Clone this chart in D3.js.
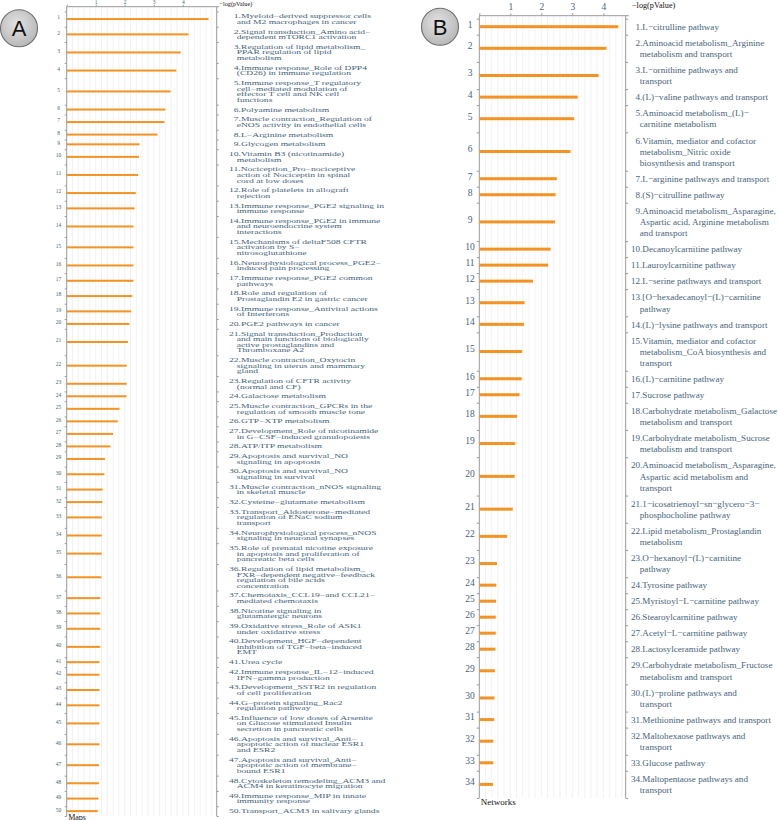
<!DOCTYPE html>
<html>
<head>
<meta charset="utf-8">
<script src="https://cdn.jsdelivr.net/npm/d3@7"></script>
<style>
  body { margin: 0; background: #fff; }
  svg { display: block; }
</style>
</head>
<body>
<svg id="chart" width="778" height="820"></svg>
<script>
// Panel A: pathway maps, -log(pValue)
const mapLabels = [
  'Myeloid−derived suppressor cells\nand M2 macrophages in cancer',
  'Signal transduction_Amino acid−\ndependent mTORC1 activation',
  'Regulation of lipid metabolism_\nPPAR regulation of lipid\nmetabolism',
  'Immune response_Role of DPP4\n(CD26) in immune regulation',
  'Immune response_T regulatory\ncell−mediated modulation of\neffector T cell and NK cell\nfunctions',
  'Polyamine metabolism',
  'Muscle contraction_Regulation of\neNOS activity in endothelial cells',
  'L−Arginine metabolism',
  'Glycogen metabolism',
  'Vitamin B3 (nicotinamide)\nmetabolism',
  'Nociception_Pro−nociceptive\naction of Nociceptin in spinal\ncord at low doses',
  'Role of platelets in allograft\nrejection',
  'Immune response_PGE2 signaling in\nimmune response',
  'Immune response_PGE2 in immune\nand neuroendocrine system\ninteractions',
  'Mechanisms of deltaF508 CFTR\nactivation by S−\nnitrosoglutathione',
  'Neurophysiological process_PGE2−\ninduced pain processing',
  'Immune response_PGE2 common\npathways',
  'Role and regulation of\nProstaglandin E2 in gastric cancer',
  'Immune response_Antiviral actions\nof Interferons',
  'PGE2 pathways in cancer',
  'Signal transduction_Production\nand main functions of biologically\nactive prostaglandins and\nThromboxane A2',
  'Muscle contraction_Oxytocin\nsignaling in uterus and mammary\ngland',
  'Regulation of CFTR activity\n(normal and CF)',
  'Galactose metabolism',
  'Muscle contraction_GPCRs in the\nregulation of smooth muscle tone',
  'GTP−XTP metabolism',
  'Development_Role of nicotinamide\nin G−CSF−induced granulopoiesis',
  'ATP/ITP metabolism',
  'Apoptosis and survival_NO\nsignaling in apoptosis',
  'Apoptosis and survival_NO\nsignaling in survival',
  'Muscle contraction_nNOS signaling\nin skeletal muscle',
  'Cysteine−glutamate metabolism',
  'Transport_Aldosterone−mediated\nregulation of ENaC sodium\ntransport',
  'Neurophysiological process_nNOS\nsignaling in neuronal synapses',
  'Role of prenatal nicotine exposure\nin apoptosis and proliferation of\npancreatic beta cells',
  'Regulation of lipid metabolism_\nFXR−dependent negative−feedback\nregulation of bile acids\nconcentration',
  'Chemotaxis_CCL19−and CCL21−\nmediated chemotaxis',
  'Nicotine signaling in\nglutamatergic neurons',
  'Oxidative stress_Role of ASK1\nunder oxidative stress',
  'Development_HGF−dependent\ninhibition of TGF−beta−induced\nEMT',
  'Urea cycle',
  'Immune response_IL−12−induced\nIFN−gamma production',
  'Development_SSTR2 in regulation\nof cell proliferation',
  'G−protein signaling_Rac2\nregulation pathway',
  'Influence of low doses of Arsenite\non Glucose stimulated Insulin\nsecretion in pancreatic cells',
  'Apoptosis and survival_Anti−\napoptotic action of nuclear ESR1\nand ESR2',
  'Apoptosis and survival_Anti−\napoptotic action of membrane−\nbound ESR1',
  'Cytoskeleton remodeling_ACM3 and\nACM4 in keratinocyte migration',
  'Immune response_MIP in innate\nimmunity response',
  'Transport_ACM3 in salivary glands'
];
const mapValues = [
  4.89, 4.20, 3.93, 3.78, 3.58, 3.40, 3.37, 3.13, 2.51, 2.49,
  2.46, 2.38, 2.34, 2.30, 2.30, 2.30, 2.30, 2.26, 2.22, 2.16,
  2.11, 2.07, 2.07, 2.06, 1.82, 1.76, 1.60, 1.51, 1.32, 1.30,
  1.24, 1.23, 1.21, 1.21, 1.21, 1.20, 1.16, 1.16, 1.16, 1.16,
  1.13, 1.13, 1.13, 1.13, 1.13, 1.13, 1.11, 1.11, 1.09, 1.07
];

// Panel B: networks, -log(pValue)
const networkLabels = [
  'L−citrulline pathway',
  'Aminoacid metabolism_Arginine\nmetabolism and transport',
  'L−ornithine pathways and\ntransport',
  '(L)−valine pathways and transport',
  'Aminoacid metabolism_(L)−\ncarnitine metabolism',
  'Vitamin, mediator and cofactor\nmetabolism_Nitric oxide\nbiosynthesis and transport',
  'L−arginine pathways and transport',
  '(S)−citrulline pathway',
  'Aminoacid metabolism_Asparagine,\nAspartic acid, Arginine metabolism\nand transport',
  'Decanoylcarnitine pathway',
  'Lauroylcarnitine pathway',
  'L−serine pathways and transport',
  '[O−hexadecanoyl−(L)−carnitine\npathway',
  '(L)−lysine pathways and transport',
  'Vitamin, mediator and cofactor\nmetabolism_CoA biosynthesis and\ntransport',
  '(L)−carnitine pathway',
  'Sucrose pathway',
  'Carbohydrate metabolism_Galactose\nmetabolism and transport',
  'Carbohydrate metabolism_Sucrose\nmetabolism and transport',
  'Aminoacid metabolism_Asparagine,\nAspartic acid metabolism and\ntransport',
  '1−icosatrienoyl−sn−glycero−3−\nphosphocholine pathway',
  'Lipid metabolism_Prostaglandin\nmetabolism',
  'O−hexanoyl−(L)−carnitine\npathway',
  'Tyrosine pathway',
  'Myristoyl−L−carnitine pathway',
  'Stearoylcarnitine pathway',
  'Acetyl−L−carnitine pathway',
  'Lactosylceramide pathway',
  'Carbohydrate metabolism_Fructose\nmetabolism and transport',
  '(L)−proline pathways and\ntransport',
  'Methionine pathways and transport',
  'Maltohexaose pathways and\ntransport',
  'Glucose pathway',
  'Maltopentaose pathways and\ntransport'
];
const networkValues = [
  4.48, 4.10, 3.85, 3.17, 3.06, 2.94, 2.50, 2.46, 2.44, 2.30,
  2.22, 1.73, 1.46, 1.44, 1.38, 1.37, 1.30, 1.22, 1.16, 1.14,
  1.08, 0.90, 0.57, 0.55, 0.54, 0.53, 0.53, 0.52, 0.50, 0.49,
  0.48, 0.45, 0.45, 0.44
];

const xTicks = [1, 2, 3, 4];
const axisTitle = '−log(pValue)';

const barColor = '#f39323';
const textColor = '#46647a';
const axisColor = '#9a9a9a';
const serif = '"Liberation Serif", "DejaVu Serif", serif';

const svg = d3.select('#chart');

const grad = svg.append('defs').append('radialGradient')
  .attr('id', 'badge').attr('cx', '45%').attr('cy', '40%').attr('r', '65%');
grad.append('stop').attr('offset', '0%').attr('stop-color', '#e4e4e4');
grad.append('stop').attr('offset', '100%').attr('stop-color', '#b4b4b4');

function drawPanel(cfg) {
  const g = svg.append('g');
  const lines = cfg.labels.map((s) => s.split('\n'));
  const heights = lines.map((l) => l.length * cfg.lineUnit + cfg.padUnit);
  const ends = Array.from(d3.cumsum(heights));
  const starts = [0, ...ends.slice(0, -1)];
  const total = ends[ends.length - 1];

  const x = d3.scaleLinear().domain([0, cfg.xMax]).range([cfg.x0, cfg.x1]);
  const y = d3.scaleLinear().domain([0, total]).range([cfg.rowTop, cfg.rowBottom]);
  const step = (y(cfg.lineUnit) - y(0)) / cfg.scaleY;

  const rows = cfg.values.map((v, i) => ({
    v, i, lines: lines[i], mid: y(starts[i] + heights[i] / 2)
  }));

  // faint vertical grid
  g.append('g').selectAll('line')
    .data(d3.range(1, Math.floor(cfg.xMax / 0.2) + 1).map((k) => k * 0.2))
    .join('line')
    .attr('x1', (d) => x(d)).attr('x2', (d) => x(d))
    .attr('y1', cfg.axisTop).attr('y2', cfg.axisBottom)
    .attr('stroke', '#ececec').attr('stroke-width', 0.7);

  // top axis
  const top = g.append('g')
    .attr('transform', `translate(0,${cfg.axisTop})`)
    .call(d3.axisTop(x).tickValues([0, ...xTicks]).tickSize(cfg.tickLen)
      .tickSizeOuter(0).tickPadding(cfg.tickPad).tickFormat((d) => (d ? d : '')));
  top.select('.domain').remove();
  top.selectAll('line').attr('stroke', axisColor);
  top.selectAll('text').attr('fill', textColor).attr('font-family', serif).attr('font-size', cfg.tickFont);
  g.append('line')
    .attr('x1', cfg.x0).attr('x2', cfg.x1 + cfg.topExtend)
    .attr('y1', cfg.axisTop).attr('y2', cfg.axisTop)
    .attr('stroke', axisColor);

  // left and right axes with ticks on row boundaries
  const bounds = [0, ...ends];
  const left = g.append('g')
    .attr('transform', `translate(${cfg.x0},0)`)
    .call(d3.axisLeft(y).tickValues(bounds).tickSize(cfg.tickLen).tickFormat(''));
  left.select('.domain').remove();
  left.selectAll('line').attr('stroke', axisColor);
  const right = g.append('g')
    .attr('transform', `translate(${cfg.x1},0)`)
    .call(d3.axisRight(y).tickValues(bounds).tickSize(cfg.tickLen).tickFormat(''));
  right.select('.domain').remove();
  right.selectAll('line').attr('stroke', axisColor);
  [cfg.x0, cfg.x1].forEach((px) => {
    g.append('line').attr('x1', px).attr('x2', px)
      .attr('y1', cfg.axisTop).attr('y2', cfg.axisBottom)
      .attr('stroke', axisColor);
  });

  // bars
  g.append('g').selectAll('rect').data(rows).join('rect')
    .attr('x', x(0))
    .attr('y', (d) => d.mid - cfg.barH / 2)
    .attr('width', (d) => x(d.v) - x(0))
    .attr('height', cfg.barH)
    .attr('fill', barColor);

  // row numbers left of the axis
  g.append('g').selectAll('text').data(rows).join('text')
    .attr('x', cfg.numX)
    .attr('y', (d) => d.mid + cfg.numDy)
    .attr('text-anchor', 'middle')
    .attr('dy', '0.35em')
    .attr('font-family', serif).attr('font-size', cfg.numFont)
    .attr('fill', textColor)
    .text((d) => d.i + 1);

  // wrapped labels on the right: number padded to two digits, continuation indented
  const digitW = cfg.labelFont * 0.5;
  g.append('g').selectAll('text').data(rows).join('text')
    .attr('transform', (d) => `translate(${cfg.labelX},${d.mid}) scale(1,${cfg.scaleY})`)
    .attr('font-family', serif).attr('font-size', cfg.labelFont).attr('fill', textColor)
    .selectAll('tspan')
    .data((d) => d.lines.map((t, k) => ({ t, k, n: d.lines.length, num: d.i + 1 })))
    .join('tspan')
    .attr('x', (d) => (d.k === 0 ? (d.num < 10 ? digitW : 0) : cfg.contIndent))
    .attr('y', (d) => (d.k - (d.n - 1) / 2) * step)
    .attr('dy', '0.35em')
    .text((d) => (d.k === 0 ? `${d.num}.${d.t}` : d.t));

  // axis titles
  g.append('text')
    .attr('x', cfg.titleX).attr('y', cfg.titleY)
    .attr('font-family', serif).attr('font-size', cfg.titleFont)
    .attr('fill', '#111')
    .text(axisTitle);
  g.append('text')
    .attr('x', cfg.x0 + 1.5).attr('y', cfg.catY)
    .attr('font-family', serif).attr('font-size', cfg.catFont)
    .attr('fill', '#111')
    .text(cfg.catTitle);

  // panel badge
  g.append('circle')
    .attr('cx', cfg.badgeX).attr('cy', cfg.badgeY).attr('r', 18.5)
    .attr('fill', 'url(#badge)').attr('stroke', '#6e6e6e').attr('stroke-width', 1.1);
  g.append('text')
    .attr('x', cfg.badgeX).attr('y', cfg.badgeY)
    .attr('text-anchor', 'middle').attr('dy', '0.36em')
    .attr('font-family', '"Liberation Sans", Arial, sans-serif')
    .attr('font-size', 22).attr('fill', '#111')
    .text(cfg.badge);
}

drawPanel({
  labels: mapLabels, values: mapValues, badge: 'A', catTitle: 'Maps',
  x0: 66.7, x1: 216.7, xMax: 5.17,
  axisTop: 6.7, axisBottom: 816, rowTop: 11.4, rowBottom: 816,
  lineUnit: 5.6, padUnit: 4.2, barH: 2,
  tickLen: 2, tickPad: 0.8, tickFont: 5.5, topExtend: 2.5,
  numX: 58.5, numDy: -1.5, numFont: 5.5,
  labelX: 229, labelFont: 9.6, scaleY: 0.6, contIndent: 7.7,
  titleX: 219.5, titleY: 5.8, titleFont: 6.2,
  catY: 819.5, catFont: 8,
  badgeX: 19, badgeY: 28.3
});

drawPanel({
  labels: networkLabels, values: networkValues, badge: 'B', catTitle: 'Networks',
  x0: 479.3, x1: 625.7, xMax: 4.72,
  axisTop: 15.7, axisBottom: 798, rowTop: 18.7, rowBottom: 798,
  lineUnit: 11.2, padUnit: 4.8, barH: 3,
  tickLen: 2.5, tickPad: 3, tickFont: 9.5, topExtend: 3,
  numX: 470, numDy: -2.5, numFont: 9.5,
  labelX: 631, labelFont: 9.1, scaleY: 1, contIndent: 8.8,
  titleX: 632, titleY: 8, titleFont: 8.2,
  catY: 804.5, catFont: 9,
  badgeX: 440, badgeY: 26.7
});
</script>
</body>
</html>
